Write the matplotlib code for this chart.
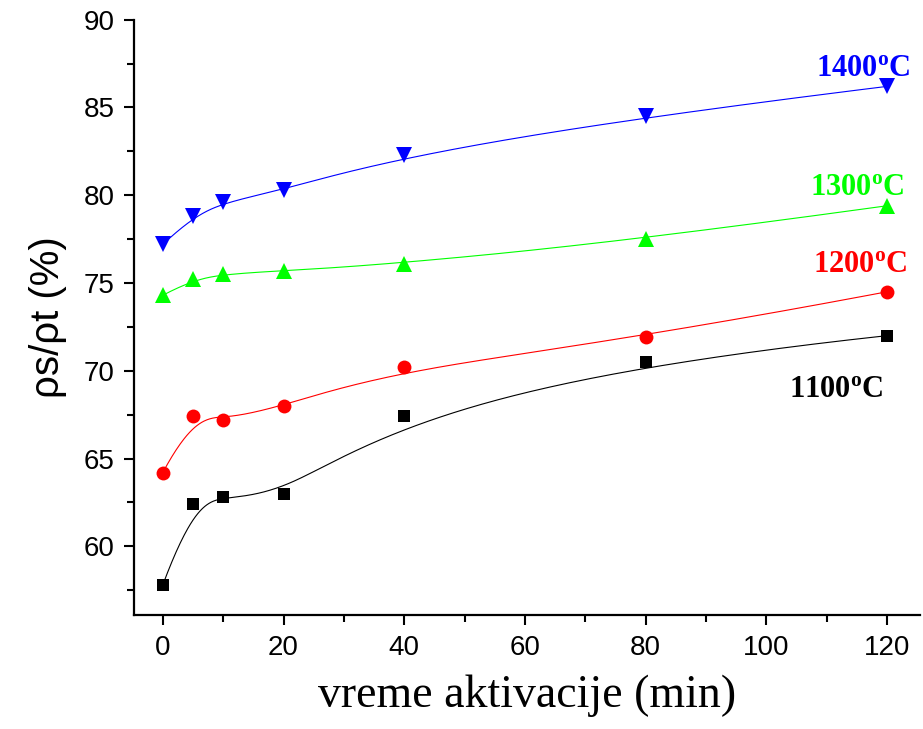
import numpy as np
import matplotlib
matplotlib.use('Agg')
import matplotlib.pyplot as plt
from matplotlib.ticker import MultipleLocator

# data
minutes = [0, 5, 10, 20, 40, 80, 120]
t1100 = [57.8, 62.4, 62.8, 63.0, 67.4, 70.5, 72.0]
t1200 = [64.2, 67.4, 67.2, 68.0, 70.2, 71.9, 74.5]
t1300 = [74.3, 75.2, 75.5, 75.7, 76.1, 77.5, 79.4]
t1400 = [77.2, 78.8, 79.6, 80.3, 82.3, 84.5, 86.2]
labels = ['1100', '1200', '1300', '1400']


def bspline(xs, ys, k=3, n=300):
    """Clamped uniform B-spline using the points as control points (Origin style)"""
    P = np.column_stack([xs, ys]).astype(float)
    m = len(P)
    inner = np.linspace(0, 1, m - k + 1)
    knots = np.concatenate([[0] * k, inner, [1] * k])
    u = np.linspace(0, 1, n)
    u[-1] -= 1e-10

    def basis(i, p, t):
        if p == 0:
            return np.where((knots[i] <= t) & (t < knots[i + 1]), 1.0, 0.0)
        a = 0.0
        d1 = knots[i + p] - knots[i]
        if d1 > 0:
            a = (t - knots[i]) / d1 * basis(i, p - 1, t)
        b = 0.0
        d2 = knots[i + p + 1] - knots[i + 1]
        if d2 > 0:
            b = (knots[i + p + 1] - t) / d2 * basis(i + 1, p - 1, t)
        return a + b

    curve = sum(basis(i, k, u)[:, None] * P[i] for i in range(m))
    return curve[:, 0], curve[:, 1]


plt.rcParams['mathtext.fontset'] = 'custom'
plt.rcParams['mathtext.bf'] = 'Liberation Serif:bold'
plt.rcParams['mathtext.rm'] = 'Liberation Serif'

fig = plt.figure(figsize=(9.23, 7.29), dpi=100)
ax = fig.add_axes([0.145, 0.156, 0.852, 0.817])

series = [
    (t1100, 'black', 's', 9),
    (t1200, 'red', 'o', 10),
    (t1300, '#00ff00', '^', 11),
    (t1400, 'blue', 'v', 11),
]
for vals, col, mk, ms in series:
    cx, cy = bspline(minutes, vals)
    ax.plot(cx, cy, color=col, lw=0.8)
    ax.plot(minutes, vals, ls='none', marker=mk, color=col, ms=ms, mew=0)

# temperature labels
lab_pos = [(111.5, 69.0), (115.5, 76.1), (115, 80.5), (116, 87.3)]
lab_col = ['black', 'red', '#00ff00', 'blue']
for lab, (lx, ly), col in zip(labels, lab_pos, lab_col):
    ax.text(lx, ly, r'$\mathbf{' + lab + r'^{o}C}$', color=col, fontsize=22,
            ha='center', va='center')

ax.set_xlim(-4.8, 125.5)
ax.set_ylim(56.07, 90)
ax.xaxis.set_major_locator(MultipleLocator(20))
ax.xaxis.set_minor_locator(MultipleLocator(10))
ax.yaxis.set_major_locator(MultipleLocator(5))
ax.yaxis.set_minor_locator(MultipleLocator(2.5))

for s in ['top', 'right']:
    ax.spines[s].set_visible(False)
for s in ['left', 'bottom']:
    ax.spines[s].set_linewidth(1.6)

ax.tick_params(which='major', direction='out', length=7, width=1.5, pad=7,
               labelsize=20)
ax.tick_params(which='minor', direction='out', length=5, width=1.5)
for t in ax.get_xticklabels() + ax.get_yticklabels():
    t.set_fontfamily('Liberation Sans')

ax.set_ylabel('ρs/ρt (%)', fontsize=29, family='Liberation Sans',
              labelpad=12)
ax.set_xlabel('vreme aktivacije (min)', fontsize=33, family='Liberation Serif',
              labelpad=10)

fig.savefig('out.png', dpi=100)
